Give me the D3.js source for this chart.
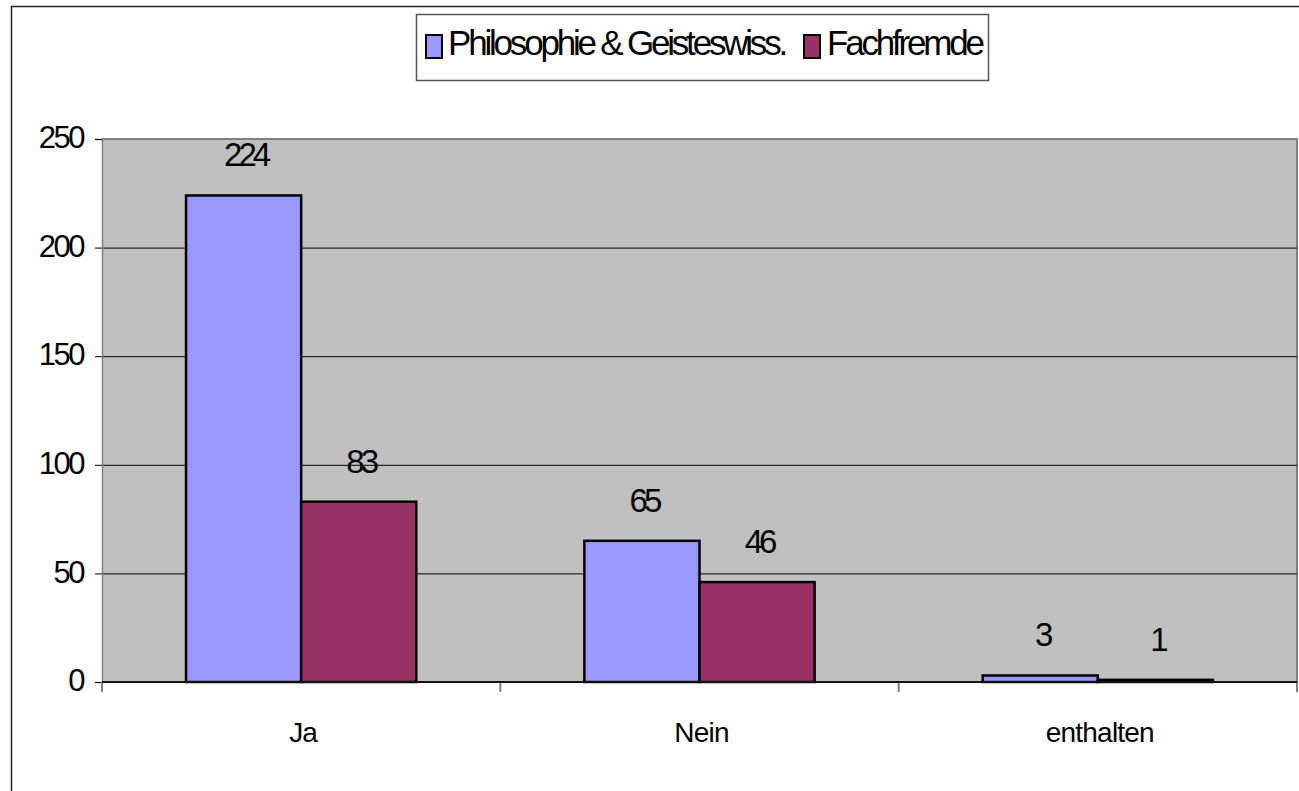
<!DOCTYPE html>
<html>
<head>
<meta charset="utf-8">
<script src="https://cdn.jsdelivr.net/npm/d3@7"></script>
<style>
  body { margin: 0; background: #fff; }
  svg { display: block; font-family: "Liberation Sans", Arial, sans-serif; }
</style>
</head>
<body>
<svg></svg>
<script>
var categories = ['Ja', 'Nein', 'enthalten']
var seriesNames = ['Philosophie & Geisteswiss.', 'Fachfremde']
var philosophie = [224, 65, 3]
var fachfremde = [83, 46, 1]
var yTicks = [0, 50, 100, 150, 200, 250]
var colors = ['#9999FF', '#993366']

var width = 1299
var height = 791

var svg = d3.select('svg').attr('width', width).attr('height', height)

// outer chart frame, right and bottom edges run off the picture
svg.append('rect')
  .attr('x', 11.5).attr('y', 6.5)
  .attr('width', width).attr('height', height)
  .attr('fill', '#fff')
  .attr('stroke', '#222')
  .attr('stroke-width', 1.5)

var plot = { left: 102, right: 1297, top: 139, bottom: 682 }

var x = d3.scaleBand()
  .domain(categories)
  .range([plot.left, plot.right])
  .padding(0)

var xs = d3.scaleBand()
  .domain(seriesNames)
  .range([0, x.bandwidth()])
  .paddingInner(0)
  .paddingOuter(0.73)

var y = d3.scaleLinear()
  .domain([0, 250])
  .range([plot.bottom, plot.top])

// plot area
svg.append('rect')
  .attr('x', plot.left).attr('y', plot.top)
  .attr('width', plot.right - plot.left).attr('height', plot.bottom - plot.top)
  .attr('fill', '#C0C0C0')

// top and right border
svg.append('path')
  .attr('d', `M${plot.left},${plot.top}H${plot.right}V${plot.bottom}`)
  .attr('fill', 'none')
  .attr('stroke', '#808080')
  .attr('stroke-width', 2)

// gridlines
svg.append('g')
  .selectAll('line')
  .data(yTicks.filter(function (t) { return t > 0 && t < 250 }))
  .enter().append('line')
    .attr('x1', plot.left).attr('x2', plot.right)
    .attr('y1', function (t) { return y(t) + 0.5 })
    .attr('y2', function (t) { return y(t) + 0.5 })
    .attr('stroke', '#000')
    .attr('stroke-width', 1)

// y axis
var yAxis = svg.append('g')
  .attr('transform', `translate(${plot.left},0)`)
  .call(d3.axisLeft(y).tickValues(yTicks).tickSize(7).tickPadding(12))
yAxis.select('.domain').attr('stroke', '#808080').attr('stroke-width', 1.5)
yAxis.selectAll('.tick line').attr('stroke', '#000')
yAxis.selectAll('.tick text')
  .attr('font-size', 31)
  .attr('font-family', '"Liberation Sans", Arial, sans-serif')
  .attr('fill', '#000')
  .attr('letter-spacing', -2.5)
  .attr('dx', 0)
  .attr('dy', '0.28em')

// x axis ticks at category boundaries
var boundaries = categories.map(function (c) { return x(c) }).concat([plot.right])
svg.append('g')
  .selectAll('line')
  .data(boundaries)
  .enter().append('line')
    .attr('x1', function (d) { return d }).attr('x2', function (d) { return d })
    .attr('y1', plot.bottom).attr('y2', plot.bottom + 10)
    .attr('stroke', '#808080')
    .attr('stroke-width', 2)

svg.append('g')
  .selectAll('text')
  .data(categories)
  .enter().append('text')
    .attr('x', function (c) { return x(c) + x.bandwidth() / 2 + 2 })
    .attr('y', 742)
    .attr('text-anchor', 'middle')
    .attr('font-size', 28)
    .attr('letter-spacing', -0.8)
    .text(function (c) { return c })

// bars
var series = [philosophie, fachfremde]
series.forEach(function (values, si) {
  var g = svg.append('g')
  g.selectAll('rect')
    .data(values)
    .enter().append('rect')
      .attr('x', function (v, i) { return x(categories[i]) + xs(seriesNames[si]) })
      .attr('y', function (v) { return y(v) })
      .attr('width', xs.bandwidth())
      .attr('height', function (v) { return plot.bottom - y(v) })
      .attr('fill', colors[si])
      .attr('stroke', '#000')
      .attr('stroke-width', 2.5)

  g.selectAll('text')
    .data(values)
    .enter().append('text')
      .attr('x', function (v, i) { return x(categories[i]) + xs(seriesNames[si]) + xs.bandwidth() / 2 + 2 })
      .attr('y', function (v) { return y(v) - 29 })
      .attr('text-anchor', 'middle')
      .attr('font-size', 33)
      .attr('letter-spacing', -4)
      .text(function (v) { return v })
})

// zero line
svg.append('line')
  .attr('x1', plot.left).attr('x2', plot.right)
  .attr('y1', plot.bottom).attr('y2', plot.bottom)
  .attr('stroke', '#111')
  .attr('stroke-width', 2)

// legend
var legend = svg.append('g')
legend.append('rect')
  .attr('x', 416.5).attr('y', 14.5)
  .attr('width', 572).attr('height', 66)
  .attr('fill', '#fff')
  .attr('stroke', '#555')
  .attr('stroke-width', 1.5)

var legendItems = [
  { name: seriesNames[0], color: colors[0], sx: 426, tx: 448 },
  { name: seriesNames[1], color: colors[1], sx: 804, tx: 827 }
]
legendItems.forEach(function (item) {
  legend.append('rect')
    .attr('x', item.sx).attr('y', 35)
    .attr('width', 16).attr('height', 23)
    .attr('fill', item.color)
    .attr('stroke', '#000')
    .attr('stroke-width', 2)
  legend.append('text')
    .attr('x', item.tx).attr('y', 55)
    .attr('font-size', 35)
    .attr('letter-spacing', -3.2)
    .text(item.name)
})
</script>
</body>
</html>
